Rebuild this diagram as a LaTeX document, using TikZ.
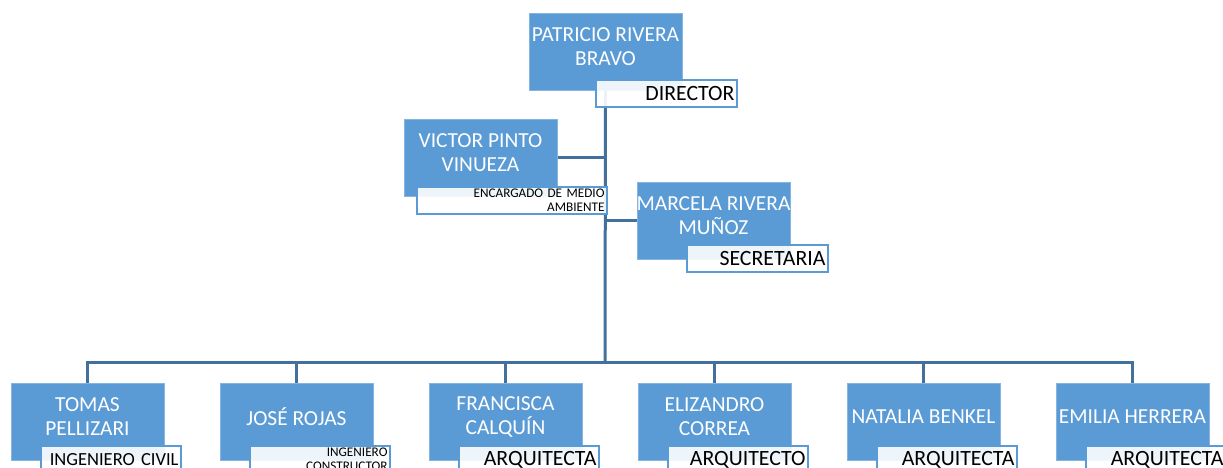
\documentclass[tikz,border=0pt]{standalone}
\usepackage{fontspec}
\setmainfont{Carlito}
\usetikzlibrary{positioning,backgrounds}
\definecolor{boxblue}{HTML}{5B9BD5}
\definecolor{linkblue}{HTML}{41719C}

\begin{document}
\begin{tikzpicture}
[x=1pt,y=-1pt,
 every node/.style={inner sep=0pt,outer sep=0pt},
 person/.style={rectangle,fill=boxblue,draw=boxblue!75!white,line width=0.6pt,minimum width=153pt,minimum height=77pt,anchor=north west},
 who/.style={text=white,font=\fontsize{21.4}{24}\selectfont,align=center,yshift=5pt},
 role/.style={rectangle,draw=boxblue,line width=1.6pt,fill=white,fill opacity=0.9,text opacity=1,minimum height=27pt,inner xsep=2.5pt,text width=#1,align=right,anchor=north west,font=\fontsize{21.8}{22}\selectfont},
 role/.default=136pt,
 fine/.style={font=\fontsize{13.2}{14}\selectfont,inner ysep=1pt},
 link/.style={draw=linkblue,line width=3pt}]
\useasboundingbox (0,0) rectangle (1223,468);
\clip (0,0) rectangle (1223,468);

% top of the chart
\node[person,label={[who]center:{PATRICIO RIVERA\\BRAVO}}] (patricio) at (529,13) {};
\node[role] (dirrole) at ([shift={(67,-10)}]patricio.south west) {DIRECTOR};

\node[person,label={[who]center:{VICTOR PINTO\\VINUEZA}}] (victor) at (404,119) {};
\node[role=185pt,fine] (victrole) at ([shift={(13,-9)}]victor.south west) {ENCARGADO DE MEDIO\\AMBIENTE};

\node[person,label={[who]center:{MARCELA RIVERA\\MUÑOZ}}] (marcela) at (637,182) {};
\node[role] (marcrole) at ([shift={(50,-14)}]marcela.south west) {SECRETARIA};

% bottom row
\node[person,label={[who]center:{TOMAS\\PELLIZARI}}] (tomas) at (11,383) {};
\node[person,label={[who]center:{JOSÉ ROJAS}}] (jose) [right=56pt of tomas] {};
\node[person,label={[who]center:{FRANCISCA\\CALQUÍN}}] (francisca) [right=56pt of jose] {};
\node[person,label={[who]center:{ELIZANDRO\\CORREA}}] (elizandro) [right=56pt of francisca] {};
\node[person,label={[who]center:{NATALIA BENKEL}}] (natalia) [right=56pt of elizandro] {};
\node[person,label={[who]center:{EMILIA HERRERA}}] (emilia) [right=56pt of natalia] {};

\node[role=135pt,font=\fontsize{18.5}{20}\selectfont] (tomrole) at ([shift={(30,-14)}]tomas.south west) {INGENIERO CIVIL};
\node[role=135pt,fine] (josrole) at ([shift={(30,-14)}]jose.south west) {INGENIERO\\CONSTRUCTOR};
\node[role=135pt] (frarole) at ([shift={(30,-14)}]francisca.south west) {ARQUITECTA};
\node[role=135pt] (elirole) at ([shift={(30,-14)}]elizandro.south west) {ARQUITECTO};
\node[role=135pt] (natrole) at ([shift={(30,-14)}]natalia.south west) {ARQUITECTA};
\node[role=135pt] (emirole) at ([shift={(30,-14)}]emilia.south west) {ARQUITECTA};

% connectors go behind the boxes
\begin{scope}[on background layer]
\coordinate (hub) at (605,362);
\draw[link] (patricio.south) -- (hub);
\draw[link] (victor.east) -- (victor.east -| hub);
\draw[link] (marcela.west -| hub) -- (marcela.west);
\draw[link] (hub) -| (tomas.north);
\draw[link] (hub) -| (jose.north);
\draw[link] (hub) -| (francisca.north);
\draw[link] (hub) -| (elizandro.north);
\draw[link] (hub) -| (natalia.north);
\draw[link] (hub) -| (emilia.north);
\end{scope}
\end{tikzpicture}
\end{document}
